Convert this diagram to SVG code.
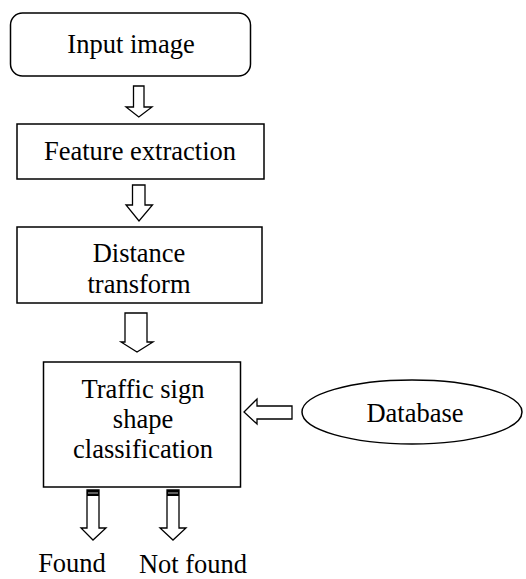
<svg xmlns="http://www.w3.org/2000/svg" width="526" height="579" viewBox="0 0 526 579">
<style>
.box{fill:#fff;stroke:#000;stroke-width:1.5}
.arr{fill:#fff;stroke:#000;stroke-width:1.3;stroke-linejoin:miter}
text{font-family:"Liberation Serif","Times New Roman",serif;font-size:26.5px;fill:#000;text-anchor:middle}
</style>
<defs>
<clipPath id="clipDT"><rect x="17" y="227" width="245" height="68"/></clipPath>
</defs>
<rect width="526" height="579" fill="#fff"/>
<g id="input">
<rect class="box" x="10.5" y="13" width="240" height="63" rx="12"/>
<text x="131" y="53">Input image</text>
</g>
<g id="feature">
<rect class="box" x="17" y="124" width="247" height="55"/>
<text x="140" y="160">Feature extraction</text>
</g>
<g id="distance">
<rect class="box" x="17" y="227" width="245" height="76"/>
<g clip-path="url(#clipDT)">
<text x="139" y="262">Distance</text>
<text x="139" y="293">transform</text>
</g>
</g>
<g id="traffic">
<rect class="box" x="43.5" y="362" width="197" height="125"/>
<text x="143" y="398">Traffic sign</text>
<text x="143" y="428">shape</text>
<text x="143" y="458">classification</text>
</g>
<g id="database">
<ellipse class="box" cx="412" cy="412" rx="110" ry="32"/>
<text x="415" y="422">Database</text>
</g>
<g id="found">
<text x="72" y="572">Found</text>
</g>
<g id="notfound">
<text x="193" y="573">Not found</text>
</g>
<g id="connectors">
<polygon class="arr" points="133.5,86 144,86 144,107 152,107 138.8,117 126,107 133.5,107"/>
<polygon class="arr" points="132.5,185 145,185 145,205 152.5,205 139,221 126,205 132.5,205"/>
<polygon class="arr" points="125,313 147,313 147,342 153,342 137,352 121,342 125,342"/>
<polygon class="arr" points="292,406 292,419 257,419 257,424 244,412 257,399 257,406"/>
<polygon class="arr" points="87,490 99,490 99,528 106,528 93,540 81,528 87,528"/>
<rect x="87" y="490" width="12" height="6" fill="#000"/>
<line x1="88" y1="493" x2="98" y2="493" stroke="#bbb" stroke-width="1"/>
<polygon class="arr" points="167,490 179,490 179,528 186,528 173,540 160,528 167,528"/>
<rect x="167" y="490" width="12" height="6" fill="#000"/>
<line x1="168" y1="493" x2="178" y2="493" stroke="#bbb" stroke-width="1"/>
</g>
</svg>
